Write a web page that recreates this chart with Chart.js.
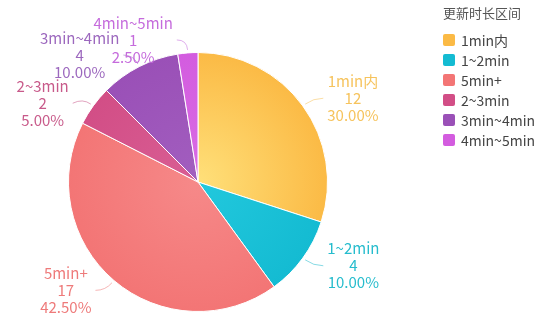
<!DOCTYPE html>
<html>
<head>
<meta charset="utf-8">
<script src="https://cdn.jsdelivr.net/npm/chart.js"></script>
<style>
  html, body { margin: 0; padding: 0; background: #fff; }
  #wrap { position: relative; width: 540px; height: 321px; font-family: "Noto Sans CJK SC", "Noto Sans", sans-serif; }
  #legend { position: absolute; left: 443px; top: 3px; color: #444; }
  #legend .title { font-size: 13px; color: #555; height: 22px; line-height: 20px; margin-bottom: 5px; }
  #legend .item { height: 20px; display: flex; align-items: center; font-size: 14px; }
  #legend .box { width: 12px; height: 12px; border-radius: 2px; margin-right: 6px; }
</style>
</head>
<body>
<div id="wrap">
  <canvas id="pie" width="540" height="321"></canvas>
  <div id="legend"></div>
</div>
<script>
let legendTitle = "更新时长区间";
let categories = ["1min内", "1~2min", "5min+", "2~3min", "3min~4min", "4min~5min"];
let counts = [12, 4, 17, 2, 4, 1];
let sliceColors = ["#FBBA45", "#14BBD2", "#F37575", "#D24E86", "#9A50B7", "#D35CDF"];
let centerColors = ["#FFE07A", "#22C8DD", "#F68989", "#D95E94", "#A25EBF", "#D96BE4"];
let labelColors = ["#F6C35C", "#25BCCD", "#EE7A7A", "#C85A8A", "#9C68BE", "#C56BDC"];

let total = counts.reduce((a, b) => a + b, 0);

// html legend
let legendDiv = document.getElementById("legend");
let t = document.createElement("div");
t.className = "title";
t.textContent = legendTitle;
legendDiv.appendChild(t);
for (let i = 0; i < categories.length; i++) {
  let item = document.createElement("div");
  item.className = "item";
  let box = document.createElement("span");
  box.className = "box";
  box.style.background = sliceColors[i];
  let txt = document.createElement("span");
  txt.textContent = categories[i];
  item.appendChild(box);
  item.appendChild(txt);
  legendDiv.appendChild(item);
}

// outside labels with leader lines
let lineGap = 17;
let outsideLabels = {
  id: "outsideLabels",
  afterDatasetsDraw(chart) {
    let ctx = chart.ctx;
    let meta = chart.getDatasetMeta(0);
    ctx.save();
    ctx.font = "15px 'Noto Sans CJK SC', 'Noto Sans', sans-serif";
    ctx.textAlign = "center";
    ctx.textBaseline = "middle";

    let labels = meta.data.map((arc, i) => {
      let p = arc.getProps(["x", "y", "startAngle", "endAngle", "outerRadius"], true);
      let mid = (p.startAngle + p.endAngle) / 2;
      let c = Math.cos(mid), s = Math.sin(mid);
      let dir = c >= 0 ? 1 : -1;
      let x1 = p.x + (p.outerRadius + 13) * c;
      let y1 = p.y + (p.outerRadius + 13) * s;
      let lines = [categories[i], String(counts[i]), (counts[i] / total * 100).toFixed(2) + "%"];
      let widths = lines.map(l => ctx.measureText(l).width);
      let w = Math.max(...widths);
      return {
        i, dir, widths,
        x0: p.x + (p.outerRadius + 3) * c,
        y0: p.y + (p.outerRadius + 3) * s,
        x1, y1,
        x2: x1 + dir * 10,
        y: y1,
        lines,
        cx: x1 + dir * 10 + dir * (w / 2 + 4)
      };
    });

    // push overlapping labels down, per side
    let lineBoxes = (L) => L.lines.map((l, k) => ({
      l: L.cx - L.widths[k] / 2, r: L.cx + L.widths[k] / 2,
      t: L.y + (k - 1) * lineGap - 7, b: L.y + (k - 1) * lineGap + 7
    }));
    let hits = (A, B) => lineBoxes(A).some(a => lineBoxes(B).some(b =>
      a.l < b.r && b.l < a.r && a.t < b.b && b.t < a.b));
    [-1, 1].forEach(side => {
      let group = labels.filter(L => L.dir === side).sort((a, b) => a.y - b.y);
      for (let k = 1; k < group.length; k++) {
        let guard = 0;
        while (group.slice(0, k).some(P => hits(P, group[k])) && guard < 80) {
          group[k].y += 1;
          guard++;
        }
      }
    });

    labels.forEach(L => {
      ctx.strokeStyle = labelColors[L.i];
      ctx.globalAlpha = 0.55;
      ctx.lineWidth = 1;
      ctx.beginPath();
      ctx.moveTo(L.x0, L.y0);
      ctx.quadraticCurveTo(L.x1, L.y1, L.x2, L.y);
      ctx.stroke();
      ctx.globalAlpha = 1;
      ctx.fillStyle = labelColors[L.i];
      L.lines.forEach((l, k) => {
        ctx.fillText(l, L.cx, L.y + (k - 1) * lineGap);
      });
    });
    ctx.restore();
  }
};

function sliceFill(context) {
  let chart = context.chart;
  let area = chart.chartArea;
  let i = context.dataIndex;
  if (!area) return sliceColors[i];
  let cx = (area.left + area.right) / 2;
  let cy = (area.top + area.bottom) / 2;
  let r = Math.min(area.right - area.left, area.bottom - area.top) / 2;
  let g = chart.ctx.createRadialGradient(cx, cy, 0, cx, cy, r);
  g.addColorStop(0, centerColors[i]);
  g.addColorStop(1, sliceColors[i]);
  return g;
}

new Chart(document.getElementById("pie").getContext("2d"), {
  type: "pie",
  data: {
    labels: categories,
    datasets: [{
      data: counts,
      backgroundColor: sliceFill,
      borderColor: "#ffffff",
      borderWidth: 1
    }]
  },
  options: {
    responsive: false,
    animation: false,
    devicePixelRatio: 1,
    layout: {
      padding: { left: 68, right: 212, top: 52, bottom: 9 }
    },
    plugins: {
      legend: { display: false },
      tooltip: { enabled: false }
    }
  },
  plugins: [outsideLabels]
});
</script>
</body>
</html>
